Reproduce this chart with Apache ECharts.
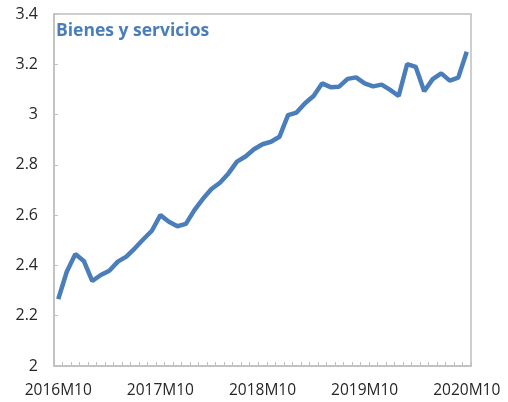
<!DOCTYPE html>
<html>
<head>
<meta charset="utf-8">
<script src="https://cdn.jsdelivr.net/npm/echarts@6/dist/echarts.min.js"></script>
<style>
html,body{margin:0;padding:0;background:#fff;}
#chart{width:508px;height:402px;}
</style>
</head>
<body>
<div id="chart"></div>
<script>
const categories = [
  "2016M10","2016M11","2016M12","2017M1","2017M2","2017M3","2017M4","2017M5","2017M6","2017M7","2017M8","2017M9",
  "2017M10","2017M11","2017M12","2018M1","2018M2","2018M3","2018M4","2018M5","2018M6","2018M7","2018M8","2018M9",
  "2018M10","2018M11","2018M12","2019M1","2019M2","2019M3","2019M4","2019M5","2019M6","2019M7","2019M8","2019M9",
  "2019M10","2019M11","2019M12","2020M1","2020M2","2020M3","2020M4","2020M5","2020M6","2020M7","2020M8","2020M9",
  "2020M10"
];
const values = [
  2.266, 2.375, 2.445, 2.418, 2.338, 2.362, 2.379, 2.415, 2.435, 2.468, 2.504, 2.538,
  2.600, 2.574, 2.556, 2.565, 2.620, 2.665, 2.704, 2.729, 2.766, 2.813, 2.833, 2.862,
  2.882, 2.892, 2.912, 2.998, 3.008, 3.045, 3.074, 3.124, 3.109, 3.111, 3.142, 3.148,
  3.124, 3.112, 3.119, 3.098, 3.074, 3.201, 3.190, 3.093, 3.141, 3.164, 3.135, 3.147,
  3.250
];
const yTicks = { min: 2, max: 3.4, interval: 0.2 };
const title = "Bienes y servicios";

const chart = echarts.init(document.getElementById('chart'), null, {renderer: 'canvas'});
chart.setOption({
  animation: false,
  backgroundColor: '#ffffff',
  textStyle: { fontFamily: 'Open Sans' },
  title: {
    text: title,
    left: 56, top: 22, padding: 0,
    textStyle: { color: '#4a7ebb', fontSize: 17.5, fontWeight: 'bold', fontFamily: 'Open Sans' }
  },
  grid: {
    left: 54, right: 37, top: 14, bottom: 36,
    show: true, borderColor: '#bfbfbf', borderWidth: 1.5, backgroundColor: 'transparent'
  },
  xAxis: {
    type: 'category',
    data: categories,
    boundaryGap: true,
    axisLine: { lineStyle: { color: '#bfbfbf', width: 1.5 } },
    axisTick: { show: true, inside: true, length: 4, interval: 0, lineStyle: { color: '#bfbfbf' } },
    axisLabel: { interval: 11, color: '#262626', fontSize: 15.5, margin: 17, fontFamily: 'Open Sans' },
    splitLine: { show: false }
  },
  yAxis: {
    type: 'value',
    min: yTicks.min, max: yTicks.max, interval: yTicks.interval,
    axisLine: { show: true, lineStyle: { color: '#bfbfbf', width: 1.5 } },
    axisTick: { show: true, inside: true, length: 4, lineStyle: { color: '#bfbfbf' } },
    axisLabel: { color: '#262626', fontSize: 16, margin: 16, fontFamily: 'Open Sans',
      formatter: v => String(Math.round(v * 10) / 10) },
    splitLine: { show: false }
  },
  series: [{
    type: 'line',
    data: values,
    symbol: 'none',
    smooth: false,
    lineStyle: { color: '#4a7ebb', width: 4.5 },
    itemStyle: { color: '#4a7ebb' }
  }]
});
</script>
</body>
</html>
